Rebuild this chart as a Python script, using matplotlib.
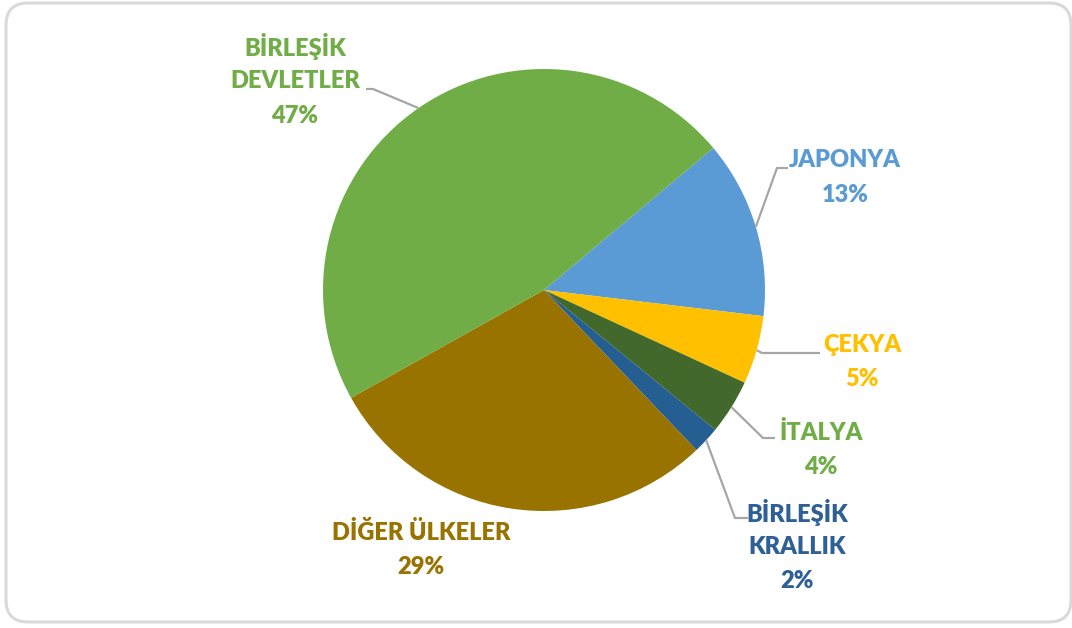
import numpy as np
import matplotlib.pyplot as plt
from matplotlib.patches import FancyBboxPatch

# -----------------------------------------------------------------------------
# Data
# -----------------------------------------------------------------------------
countries = ["JAPONYA", "ÇEKYA", "İTALYA", "BİRLEŞİK\nKRALLIK",
             "DİĞER ÜLKELER", "BİRLEŞİK\nDEVLETLER"]
shares = [13, 5, 4, 2, 29, 47]

slice_colors = ["#5B9BD5", "#FFC000", "#43682B", "#255E91", "#997300", "#70AD47"]
label_colors = ["#5B9BD5", "#FFC000", "#70AD47", "#2E6096", "#997300", "#70AD47"]

# label layout in pixels (top-left origin): x centre, y of first line
label_xy = [(845, 160), (862, 345), (821, 432), (797, 512), (421, 533), (295, 47)]
# leader line waypoints after the wedge anchor (None = no leader)
leaders = [[(777, 168), (788, 168)],
           [(762, 353), (820, 353)],
           [(763, 438), (775, 438)],
           [(735, 518), (748, 518)],
           None,
           [(373, 89), (366, 89)]]

W, H = 1072, 628
CX, CY, R = 544, 290, 221
LINE_STEP = 34.5


def fy(y):
    # top-origin pixel -> data y
    return H - y


fig = plt.figure(figsize=(W / 100, H / 100), dpi=100)
ax = fig.add_axes([0, 0, 1, 1])

wedges, _ = ax.pie(shares, colors=slice_colors, startangle=40, counterclock=False,
                   center=(CX, fy(CY)), radius=R,
                   wedgeprops=dict(linewidth=0))

ax.set_xlim(0, W)
ax.set_ylim(0, H)
ax.set_aspect("equal")
ax.axis("off")

# border
border = FancyBboxPatch((6, 6), W - 6 - 1, H - 6 - 3,
                        boxstyle="round,pad=0,rounding_size=22",
                        transform=None, facecolor="none",
                        edgecolor="#D9D9D9", linewidth=2.2)
fig.patches.append(border)

for i, w in enumerate(wedges):
    mid = np.deg2rad((w.theta1 + w.theta2) / 2)
    ax_x = CX + R * np.cos(mid)
    ax_y = fy(CY) + R * np.sin(mid)
    if leaders[i] is not None:
        xs = [ax_x] + [p[0] for p in leaders[i]]
        ys = [ax_y] + [fy(p[1]) for p in leaders[i]]
        ax.plot(xs, ys, color="#A6A6A6", linewidth=1.6, solid_capstyle="butt")

    lines = countries[i].split("\n") + [f"{shares[i]}%"]
    x0, y0 = label_xy[i]
    for k, txt in enumerate(lines):
        ax.text(x0, fy(y0 + k * LINE_STEP), txt, ha="center", va="center",
                color=label_colors[i], fontsize=17, fontweight="heavy",
                family="Lato")

fig.savefig("out.png", dpi=100)
